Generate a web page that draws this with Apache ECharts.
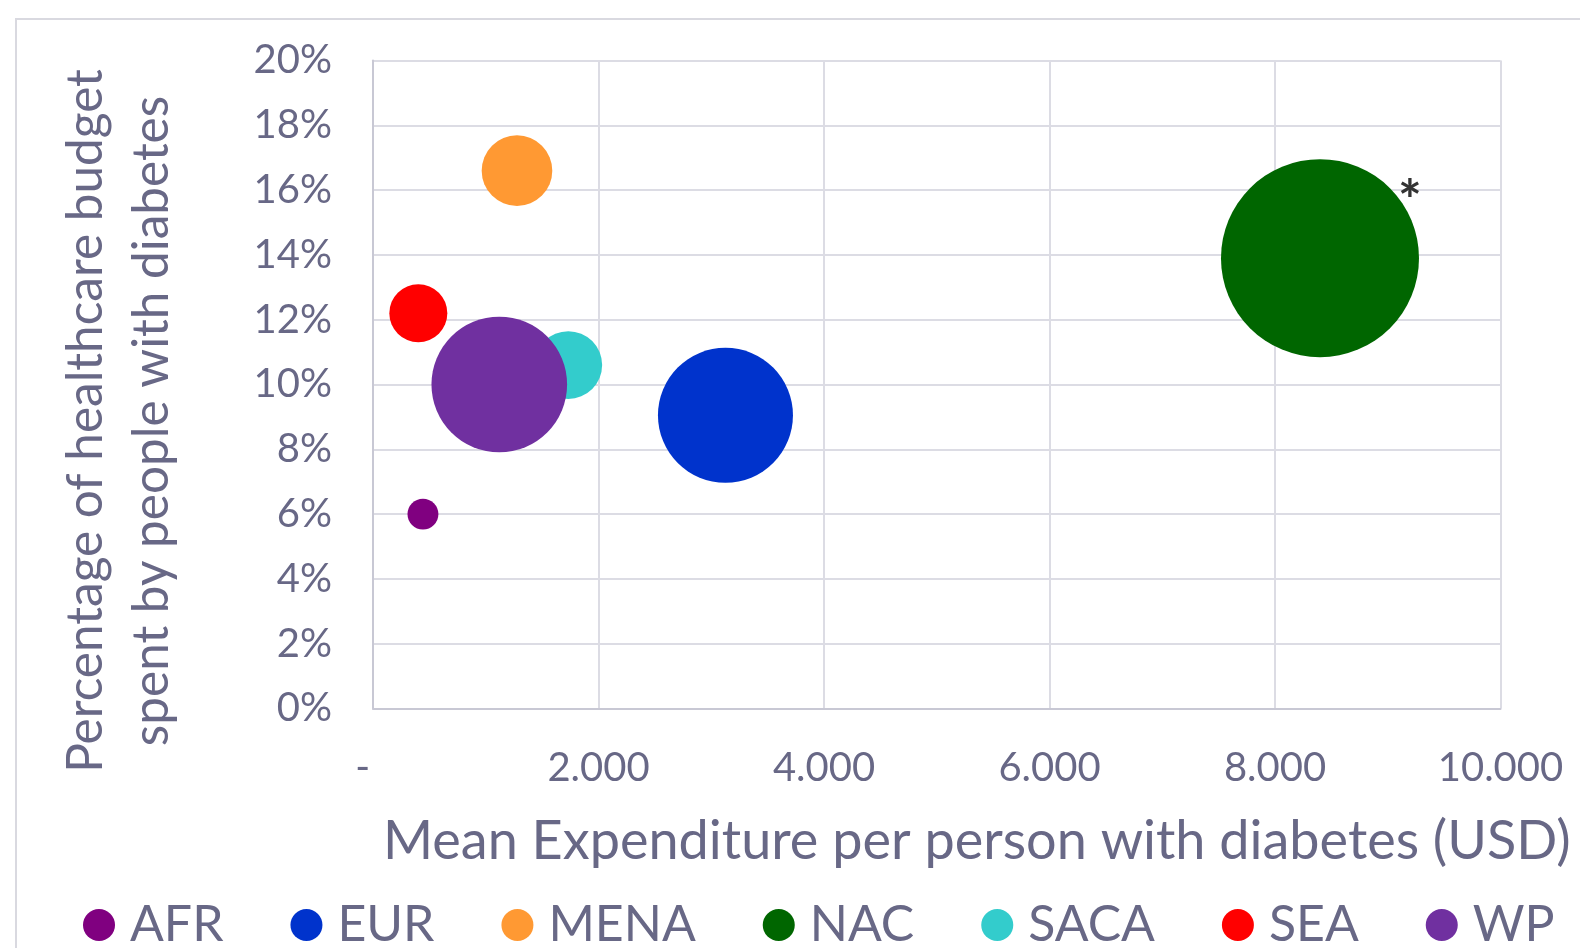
<!DOCTYPE html>
<html>
<head>
<meta charset="utf-8">
<script src="https://cdn.jsdelivr.net/npm/echarts@6/dist/echarts.min.js"></script>
<style>
html,body{margin:0;padding:0;background:#fff;}
#chart{width:1580px;height:948px;}
</style>
</head>
<body>
<div id="chart"></div>
<script>
// Data
const regions = ['AFR', 'EUR', 'MENA', 'NAC', 'SACA', 'SEA', 'WP'];
const meanExpenditure = [443, 3126, 1277, 8399, 1732, 402, 1120];   // USD
const budgetShare = [6.0, 9.05, 16.6, 13.9, 10.6, 12.2, 10.0];       // %
const bubbleSize = [7.9, 150.6, 41.2, 324, 37.9, 27.8, 152];         // relative bubble size
const colors = ['#800080', '#0033CC', '#FF9933', '#006600', '#33CCCC', '#FF0000', '#7030A0'];
const xTicks = { min: 0, max: 10000, interval: 2000 };
const yTicks = { min: 0, max: 20, interval: 2 };
const xTitle = 'Mean Expenditure per person with diabetes (USD)';
const yTitleLines = ['Percentage of healthcare budget', 'spent by people with diabetes'];
const annotatedRegion = 'NAC';

const FONT = 'Lato';
const TXT = '#686886';

const chart = echarts.init(document.getElementById('chart'));

function fmtThousands(v) {
  if (v === 0) return '-  ';
  return String(v).replace(/\B(?=(\d{3})+(?!\d))/g, '.');
}

const series = regions.map((r, i) => ({
  name: r,
  type: 'scatter',
  data: [[meanExpenditure[i], budgetShare[i], bubbleSize[i]]],
  symbolSize: d => 11 * Math.sqrt(d[2]),
  itemStyle: { color: colors[i], opacity: 1 },
  emphasis: { disabled: true },
  label: r === annotatedRegion ? {
    show: true,
    formatter: '*',
    position: 'inside',
    offset: [90, -56],
    fontSize: 56,
    fontFamily: FONT,
    fontWeight: 'bold',
    color: '#333333'
  } : { show: false }
}));

chart.setOption({
  animation: false,
  backgroundColor: '#ffffff',
  grid: { left: 373, right: 79.5, top: 60.5, bottom: 239.5, containLabel: false },
  xAxis: {
    type: 'value',
    min: xTicks.min, max: xTicks.max, interval: xTicks.interval,
    axisLine: { show: true, lineStyle: { color: '#c8c8d4', width: 2 } },
    axisTick: { show: false },
    splitLine: { show: true, lineStyle: { color: '#dcdce4', width: 2 } },
    axisLabel: {
      formatter: fmtThousands,
      fontSize: 40, fontFamily: FONT, color: TXT, margin: 40
    }
  },
  yAxis: {
    type: 'value',
    min: yTicks.min, max: yTicks.max, interval: yTicks.interval,
    axisLine: { show: true, lineStyle: { color: '#c8c8d4', width: 2 } },
    axisTick: { show: false },
    splitLine: { show: true, lineStyle: { color: '#dcdce4', width: 2 } },
    axisLabel: {
      formatter: v => Math.round(v) + '%',
      fontSize: 40, fontFamily: FONT, color: TXT, margin: 41
    }
  },
  legend: {
    data: regions,
    left: 78, top: 895,
    icon: 'circle',
    itemWidth: 32, itemHeight: 32,
    itemGap: 67,
    textStyle: { fontSize: 50, fontFamily: FONT, color: TXT, padding: [0, 0, 0, 10] }
  },
  graphic: [
    {
      type: 'rect',
      shape: { x: 16, y: 19, width: 1700, height: 1100 },
      style: { fill: 'none', stroke: '#d9d9e0', lineWidth: 2 },
      silent: true, z: -10
    },
    {
      type: 'text',
      left: 383, top: 815,
      style: { text: xTitle, font: '54px ' + FONT, fill: TXT }
    },
    {
      type: 'text',
      x: 86, y: 421, rotation: Math.PI / 2,
      style: { text: yTitleLines[0], font: '49.5px ' + FONT, fill: TXT, align: 'center', verticalAlign: 'middle' }
    },
    {
      type: 'text',
      x: 152, y: 421, rotation: Math.PI / 2,
      style: { text: yTitleLines[1], font: '49.5px ' + FONT, fill: TXT, align: 'center', verticalAlign: 'middle' }
    }
  ],
  series: series
});
</script>
</body>
</html>
